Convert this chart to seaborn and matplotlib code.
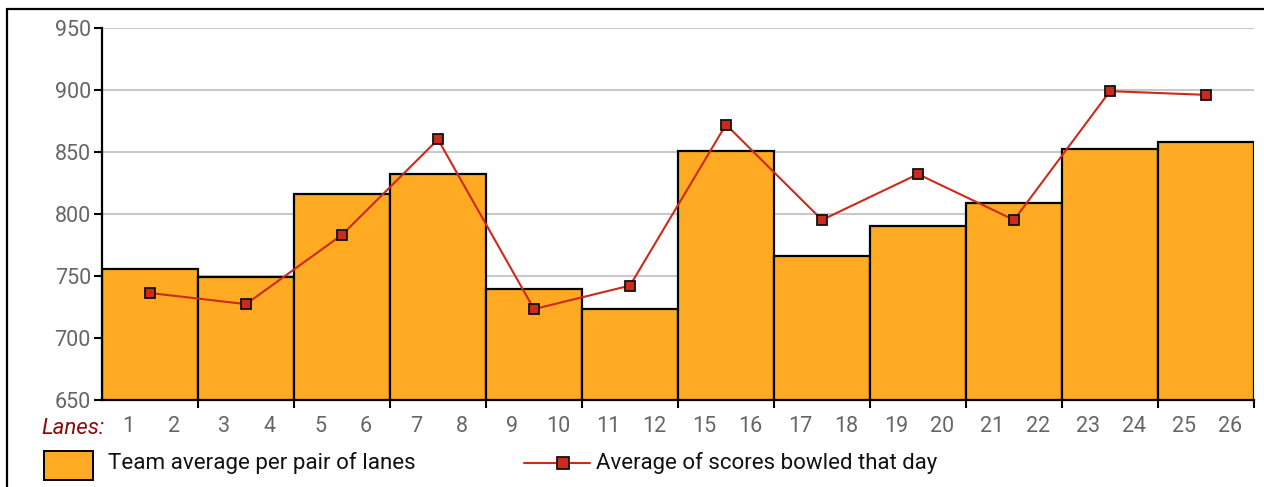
import numpy as np
import pandas as pd
import matplotlib
matplotlib.use("Agg")
import matplotlib.pyplot as plt
from matplotlib.patches import Rectangle
from matplotlib.lines import Line2D
import seaborn as sns

# lane pairs and the two series
lanes = ["1", "2", "3", "4", "5", "6", "7", "8", "9", "10", "11", "12",
         "15", "16", "17", "18", "19", "20", "21", "22", "23", "24", "25", "26"]
pair_labels = ["1-2", "3-4", "5-6", "7-8", "9-10", "11-12",
               "15-16", "17-18", "19-20", "21-22", "23-24", "25-26"]
team_avg = [755, 749, 816, 832, 739, 723, 851, 766, 790, 809, 852, 858]
day_avg = [736, 727, 783, 860, 723, 742, 872, 795, 832, 795, 899, 896]
yticks = [650, 700, 750, 800, 850, 900, 950]

bar_color = "#FEAB23"
line_color = "#CC2A1A"
fs = 15.5

sns.set_style("white")
plt.rcParams["font.family"] = ["Roboto", "DejaVu Sans"]

df = pd.DataFrame({"pos": np.arange(len(pair_labels)), "pair": pair_labels,
                   "team": team_avg, "day": day_avg})

W, H = 1264, 487
fig = plt.figure(figsize=(W / 100, H / 100), dpi=100)
ax = fig.add_axes([102 / W, (H - 399.5) / H, (1254 - 102) / W, (399.5 - 28) / H])

ax.yaxis.grid(True, color="#c8c8c8", linewidth=1.5, zorder=0)
ax.set_axisbelow(True)

sns.barplot(data=df, x="pos", y="team", width=1.0, color=bar_color,
            edgecolor="black", linewidth=1.6, saturation=1, ax=ax, zorder=2)
sns.lineplot(data=df, x="pos", y="day", color=line_color, linewidth=1.5,
             marker="s", markersize=7.5, markerfacecolor=line_color,
             markeredgecolor="#111111", markeredgewidth=1.3, ax=ax, zorder=3)

ax.set_xlim(-0.5, len(pair_labels) - 0.5)
ax.set_ylim(650, 950)
ax.set_xlabel("")
ax.set_ylabel("")

ax.set_yticks(yticks)
ax.set_yticklabels([str(v) for v in yticks])
ax.tick_params(axis="y", direction="out", length=6, width=1.5, color="black",
               labelsize=fs, labelcolor="#666666", pad=2, left=True)

# boundary ticks between pairs, lane numbers as minor labels
ax.set_xticks(np.arange(len(pair_labels)) + 0.5)
ax.set_xticklabels([""] * len(pair_labels))
minor_pos = np.ravel([[p - 0.23, p + 0.25] for p in range(len(pair_labels))])
ax.set_xticks(minor_pos, minor=True)
ax.set_xticklabels(lanes, minor=True)
ax.tick_params(axis="x", which="major", direction="out", length=6, width=1.5,
               color="black", bottom=True)
ax.tick_params(axis="x", which="minor", length=0, labelsize=fs,
               labelcolor="#666666", pad=12)

for side in ["top", "right"]:
    ax.spines[side].set_visible(False)
for side in ["left", "bottom"]:
    ax.spines[side].set_color("black")
    ax.spines[side].set_linewidth(1.6)
    ax.spines[side].set_zorder(4)

fig.text(105 / W, (H - 428) / H, "Lanes:", ha="right", va="center",
         fontsize=fs + 0.5, style="italic", color="#8B0A0A")

# outer frame (open at right and bottom)
fig.add_artist(Rectangle((7 / W, -0.1), 1.2, (H - 9) / H + 0.1,
                         transform=fig.transFigure, fill=False,
                         edgecolor="black", linewidth=1.6))

# legend drawn by hand to match the reference layout
fig.add_artist(Rectangle((44 / W, (H - 480) / H), 49 / W, 29 / H,
                         transform=fig.transFigure, facecolor=bar_color,
                         edgecolor="black", linewidth=1.4))
fig.text(108 / W, (H - 463) / H, "Team average per pair of lanes",
         ha="left", va="center", fontsize=fs + 0.6, color="#111111")
fig.add_artist(Line2D([524 / W, 590 / W], [(H - 463) / H] * 2,
                      transform=fig.transFigure, color=line_color, linewidth=1.5))
fig.add_artist(Line2D([563 / W], [(H - 463) / H], transform=fig.transFigure,
                      marker="s", markersize=9, markerfacecolor=line_color,
                      markeredgecolor="#111111", markeredgewidth=1.3,
                      linestyle="none"))
fig.text(596 / W, (H - 463) / H, "Average of scores bowled that day",
         ha="left", va="center", fontsize=fs + 0.5, color="#111111")

fig.savefig("out.png", dpi=100)
